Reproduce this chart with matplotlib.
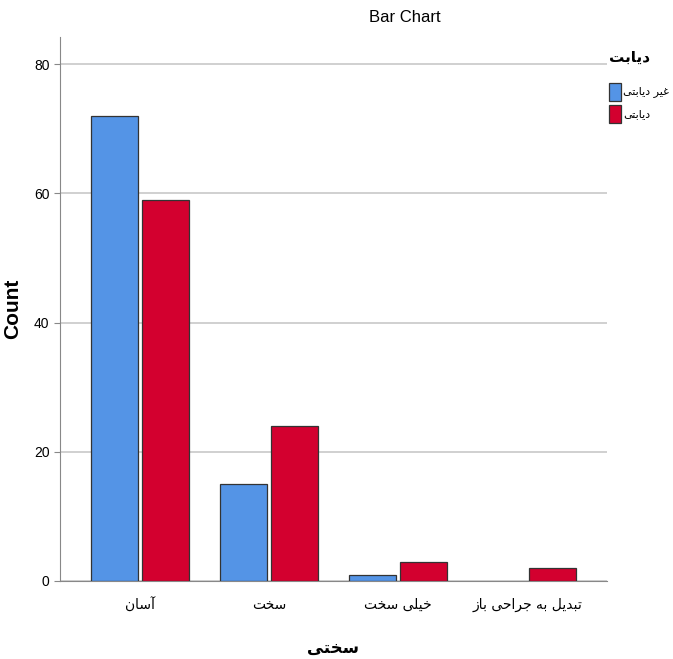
import numpy as np
import matplotlib.pyplot as plt

# data
categories = ["آسان", "سخت", "خیلی سخت", "تبدیل به جراحی باز"]
non_diabetic = [72, 15, 1, 0]
diabetic = [59, 24, 3, 2]
series_names = ["غیر دیابتی", "دیابتی"]
legend_title = "دیابت"
x_title = "سختی"

# simple arabic/persian shaping (matplotlib has no text shaping)
forms = {
    "\u0622": ("\uFE81", "\uFE82", None, None),
    "\u0627": ("\uFE8D", "\uFE8E", None, None),
    "\u0628": ("\uFE8F", "\uFE90", "\uFE91", "\uFE92"),
    "\u062A": ("\uFE95", "\uFE96", "\uFE97", "\uFE98"),
    "\u062C": ("\uFE9D", "\uFE9E", "\uFE9F", "\uFEA0"),
    "\u062D": ("\uFEA1", "\uFEA2", "\uFEA3", "\uFEA4"),
    "\u062E": ("\uFEA5", "\uFEA6", "\uFEA7", "\uFEA8"),
    "\u062F": ("\uFEA9", "\uFEAA", None, None),
    "\u0631": ("\uFEAD", "\uFEAE", None, None),
    "\u0632": ("\uFEAF", "\uFEB0", None, None),
    "\u0633": ("\uFEB1", "\uFEB2", "\uFEB3", "\uFEB4"),
    "\u063A": ("\uFECD", "\uFECE", "\uFECF", "\uFED0"),
    "\u0644": ("\uFEDD", "\uFEDE", "\uFEDF", "\uFEE0"),
    "\u0646": ("\uFEE5", "\uFEE6", "\uFEE7", "\uFEE8"),
    "\u0647": ("\uFEE9", "\uFEEA", "\uFEEB", "\uFEEC"),
    "\u06CC": ("\uFBFC", "\uFBFD", "\uFBFE", "\uFBFF"),
}


def shape(text):
    out = []
    for i, ch in enumerate(text):
        if ch not in forms:
            out.append(ch)
            continue
        prev = text[i - 1] if i > 0 else ""
        nxt = text[i + 1] if i + 1 < len(text) else ""
        join_prev = prev in forms and forms[prev][2] is not None
        join_next = nxt in forms and forms[ch][2] is not None
        iso, fin, ini, med = forms[ch]
        if join_prev and join_next:
            out.append(med)
        elif join_prev:
            out.append(fin)
        elif join_next:
            out.append(ini)
        else:
            out.append(iso)
    return "".join(out)[::-1]


plt.rcParams["font.family"] = ["Liberation Sans", "DejaVu Sans"]

fig = plt.figure(figsize=(6.73, 6.59), dpi=100)
ax = fig.add_axes([60 / 673, 1 - 581 / 659, 547 / 673, 544 / 659])

x = np.arange(len(categories))
w = 0.364
off = 0.198
lw_blue = [0.9 if v > 0 else 0 for v in non_diabetic]
lw_red = [0.9 if v > 0 else 0 for v in diabetic]
ax.bar(x - off, non_diabetic, w, color="#5494E6", edgecolor="#333333", linewidth=lw_blue, zorder=3)
ax.bar(x + off, diabetic, w, color="#D3002F", edgecolor="#333333", linewidth=lw_red, zorder=3)

ax.set_xlim(-0.62, 3.62)
ax.set_ylim(0, 84.2)
ax.set_yticks([0, 20, 40, 60, 80])
ax.grid(axis="y", color="#c8c8c8", linewidth=1.2, zorder=0)
ax.set_xticks(x)
ax.set_xticklabels([shape(c) for c in categories], fontsize=10, family=["DejaVu Sans"])
ax.tick_params(axis="y", labelsize=10, length=4, color="#888888")
ax.tick_params(axis="x", length=0, pad=12)
for s in ["top", "right"]:
    ax.spines[s].set_visible(False)
ax.spines["left"].set_color("#888888")
ax.spines["bottom"].set_color("#888888")

ax.set_ylabel("Count", fontsize=15, fontweight="bold")
ax.yaxis.set_label_coords(-38 / 547, 0.5)
fig.text(333 / 673, 1 - 648 / 659, shape(x_title), ha="center", va="center",
         fontsize=12, fontweight="bold", family=["DejaVu Sans"])
fig.text(405 / 673, 1 - 18 / 659, "Bar Chart", ha="center", va="center", fontsize=12)

# legend
fig.text(650 / 673, 1 - 57 / 659, shape(legend_title), ha="right", va="center",
         fontsize=11, fontweight="bold", family=["DejaVu Sans"])
colors = ["#5494E6", "#D3002F"]
for i, (name, c) in enumerate(zip(series_names, colors)):
    yc = 92 + i * 22
    fig.patches.append(plt.Rectangle((609 / 673, 1 - (yc + 9) / 659), 12 / 673, 18 / 659,
                                     transform=fig.transFigure, facecolor=c,
                                     edgecolor="#333333", linewidth=0.9))
    fig.text(623 / 673, 1 - yc / 659, shape(name), ha="left", va="center",
             fontsize=8, family=["DejaVu Sans"])

fig.savefig("out.png", dpi=100)
